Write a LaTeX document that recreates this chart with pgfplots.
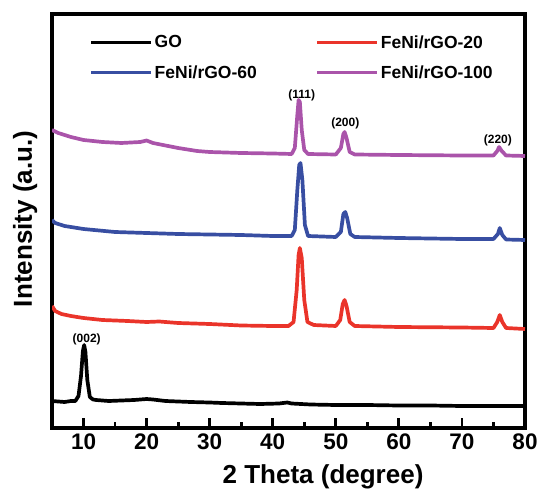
\documentclass[border=0pt]{standalone}
\usepackage{pgfplots}
\pgfplotsset{compat=1.18}
\usepackage{fontspec}
\setmainfont{Liberation Sans}
\definecolor{cred}{RGB}{234,52,42}
\definecolor{cblue}{RGB}{56,78,162}
\definecolor{cpurple}{RGB}{170,84,170}
\begin{document}
\begin{tikzpicture}
\begin{axis}[
  scale only axis, width=473pt, height=414pt,
  xmin=5, xmax=80, ymin=0, ymax=414,
  axis line style={line width=3.2pt},
  every axis/.append style={line width=3.2pt},
  xtick={10,20,...,80}, minor xtick={15,25,...,75},
  xtick pos=left, ytick=\empty,
  xtick align=inside,
  tickwidth=9pt, subtickwidth=5pt,
  xtick style={line width=2.6pt, black},
  minor tick style={line width=2.6pt, black},
  /pgf/number format/assume math mode=true,
  xticklabel style={font=\bfseries\fontsize{22.5}{26}\selectfont, yshift=-1pt},
  xlabel={2 Theta (degree)},
  ylabel={Intensity (a.u.)},
  xlabel style={font=\bfseries\fontsize{26}{30}\selectfont, at={(axis description cs:0.573,-0.118)}, anchor=center},
  ylabel style={font=\bfseries\fontsize{26}{30}\selectfont, at={(axis description cs:-0.057,0.505)}, anchor=center},
  legend columns=2,
  legend cell align=left,
  legend style={draw=none, fill=none, at={(axis description cs:0.07,0.962)}, anchor=north west,
    font=\bfseries\fontsize{17.5}{20}\selectfont, row sep=12pt,
    /tikz/every odd column/.append style={column sep=0pt},
    /tikz/every even column/.append style={column sep=57pt}},
  legend image code/.code={\draw[#1, line width=3pt] (0pt,0pt) -- (60pt,0pt);},
  every axis plot/.append style={line width=3.7pt, line join=round},
]
% inward tick marks along the bottom axis
\addplot[ycomb, black, line width=2.8pt, forget plot, no marks] coordinates {(10,10) (20,10) (30,10) (40,10) (50,10) (60,10) (70,10)};
\addplot[ycomb, black, line width=2.8pt, forget plot, no marks] coordinates {(15,6) (25,6) (35,6) (45,6) (55,6) (65,6) (75,6)};
\addplot[black] coordinates {
(5,27) (6,26.5) (7,26) (8,27) (8.7,27) (9.2,32) (9.6,52) (9.9,77) (10.1,83) (10.3,76) (10.6,48) (11,31) (11.5,28.5) (12,28) (14,27) (16,27.5) (18,28) (20,29) (21,28.5) (23,27) (25,26.5) (27,26) (30,25.5) (32,25) (35,24.5) (38,24) (41,24.5) (42.3,25.5) (43,24.5) (46,23.5) (50,23) (55,23) (60,22.5) (65,22.5) (70,22) (75,22) (80,22)
};
\addlegendentry{GO}
\addplot[cred] coordinates {
(5,122) (5.5,117) (6.5,114) (8,112) (10,110) (13,108) (17,107) (20,106) (22,106.5) (25,105) (30,104) (35,102.5) (40,102) (42.5,102) (43.3,106) (43.8,138) (44.1,173) (44.3,180) (44.6,170) (45,128) (45.5,106) (46.5,103) (50,102) (50.7,108) (51.1,124) (51.4,128) (51.7,122) (52.2,106) (53,102) (60,101) (70,100.5) (75,100) (75.6,106) (76,113) (76.4,106) (77,100) (80,99)
};
\addlegendentry{FeNi/rGO-20}
\addplot[cblue] coordinates {
(5,208) (5.5,205) (7,202) (10,199) (15,196) (20,195) (25,194) (30,193.5) (35,193) (40,192) (43,192) (43.5,198) (43.9,238) (44.2,263) (44.4,265) (44.7,248) (45.1,203) (45.6,192) (50,191) (50.8,196) (51.2,214) (51.5,216) (51.8,210) (52.3,194) (53,191) (60,190) (70,189) (75,189) (75.7,194) (76,200) (76.4,193) (77,188.5) (80,188)
};
\addlegendentry{FeNi/rGO-60}
\addplot[cpurple] coordinates {
(5,298) (6,295) (8,291) (10,288) (13,286) (16,285) (19,286) (20,287.5) (21,285) (25,280) (28,277) (30,276) (35,275) (40,274.5) (43,274) (43.5,280) (43.9,313) (44.1,328) (44.3,326) (44.6,298) (45,278) (45.6,274) (50,273.5) (50.8,280) (51.2,294) (51.4,296) (51.7,290) (52.2,276) (53,273.5) (60,273) (70,272.5) (75,272.5) (75.6,277) (75.9,281) (76.3,277) (77,272.5) (80,272)
};
\addlegendentry{FeNi/rGO-100}
\begin{scope}[font=\bfseries\fontsize{12}{14}\selectfont]
\node at (axis cs:10.5,89) {(002)};
\node at (axis cs:44.6,333) {(111)};
\node at (axis cs:51.5,305) {(200)};
\node at (axis cs:75.7,288) {(220)};
\end{scope}
\end{axis}
\pgfresetboundingbox
\path (current axis.south west) ++(-52pt,-66pt) coordinate (bbA);
\path (current axis.north east) ++(16pt,14pt) coordinate (bbB);
\useasboundingbox (bbA) rectangle (bbB);
\end{tikzpicture}
\end{document}
